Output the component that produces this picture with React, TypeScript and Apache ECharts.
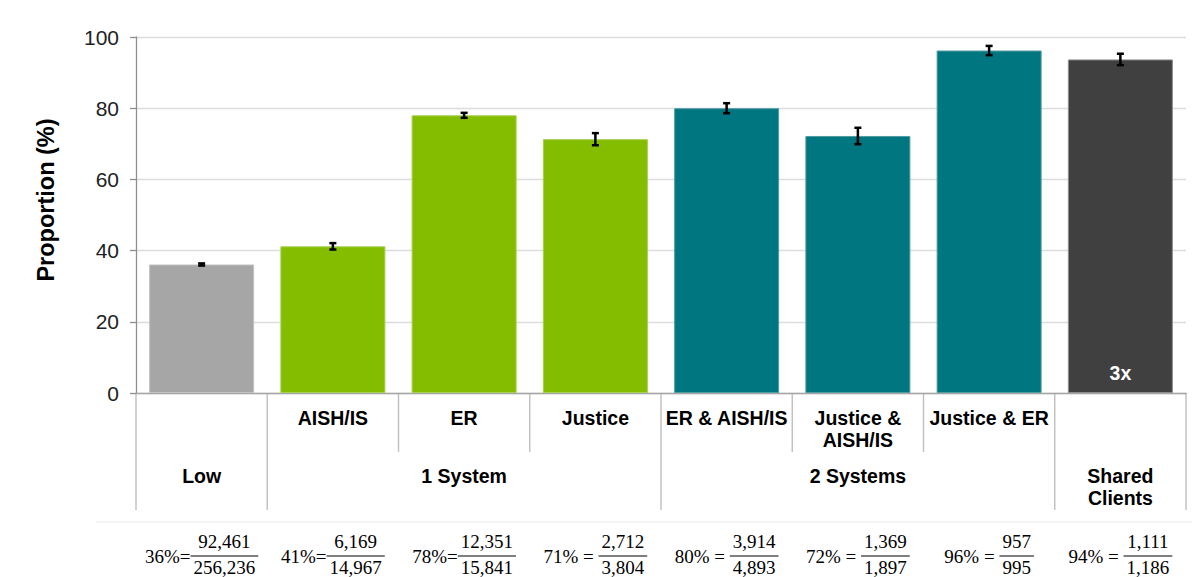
import { useEffect, useRef } from "react";
import * as echarts from "echarts";

// Leaf categories, left to right
const categories = [
  "Low",
  "AISH/IS",
  "ER",
  "Justice",
  "ER & AISH/IS",
  "Justice & AISH/IS",
  "Justice & ER",
  "Shared Clients",
];
// Text shown on the first row under the axis
const subLabels = ["", "AISH/IS", "ER", "Justice", "ER & AISH/IS", "Justice &\nAISH/IS", "Justice & ER", ""];
// Second row: group names and the group each category belongs to
const groupNames = ["Low", "1 System", "2 Systems", "Shared\nClients"];
const groupOf = [0, 1, 1, 1, 2, 2, 2, 3];

// Proportion (%) and half-width of each confidence interval
const proportions = [36.1, 41.2, 78.0, 71.3, 80.0, 72.2, 96.2, 93.7];
const errorHalfWidths = [0.3, 0.9, 0.7, 1.7, 1.4, 2.3, 1.3, 1.6];

// Counts behind each proportion
const numerators = ["92,461", "6,169", "12,351", "2,712", "3,914", "1,369", "957", "1,111"];
const denominators = ["256,236", "14,967", "15,841", "3,804", "4,893", "1,897", "995", "1,186"];
const equalsSigns = ["=", "=", "=", " = ", " = ", " = ", " = ", " = "];

// Note printed inside a bar
const barNotes = ["", "", "", "", "", "", "", "3x"];

const Y_MIN = 0;
const Y_MAX = 100;
const Y_STEP = 20;

const groupColors = ["#a6a6a6", "#84bd00", "#007680", "#404040"];
const groupBorders = ["#c2c2c2", "#a4d04c", "#4f9ca3", "#8c8c8c"];

const SANS = "'Liberation Sans', Arial, sans-serif";
const SERIF = "'Liberation Serif', 'Times New Roman', serif";

function buildOption(): echarts.EChartsOption {
  return {
    animation: false,
    backgroundColor: "#ffffff",
    grid: { left: 136, right: 10, top: 37, bottom: 184, containLabel: false },
    xAxis: {
      type: "category",
      data: categories,
      axisLine: { show: true, lineStyle: { color: "#a6a6a6", width: 1.3 } },
      axisTick: { show: false },
      axisLabel: {
        interval: 0,
        margin: 14,
        formatter: (_v: string, i: number) => subLabels[i],
        fontFamily: SANS,
        fontSize: 19.5,
        fontWeight: "bold",
        color: "#000",
        lineHeight: 22,
        verticalAlign: "top",
      },
      splitLine: { show: false },
    },
    yAxis: {
      type: "value",
      min: Y_MIN,
      max: Y_MAX,
      interval: Y_STEP,
      axisLine: { show: true, lineStyle: { color: "#8f8f8f", width: 1.3 } },
      axisTick: { show: true, length: 6, lineStyle: { color: "#8f8f8f", width: 1.3 } },
      axisLabel: { margin: 17, fontFamily: SANS, fontSize: 21, color: "#222" },
      splitLine: { show: true, lineStyle: { color: "#dcdcdc", width: 1.3 } },
    },
    series: [
      {
        type: "bar",
        barWidth: "80%",
        data: proportions.map((v, i) => ({
          value: v,
          itemStyle: {
            color: groupColors[groupOf[i]],
            borderColor: groupBorders[groupOf[i]],
            borderWidth: 1,
          },
          label: barNotes[i]
            ? {
                show: true,
                formatter: barNotes[i],
                position: "insideBottom",
                distance: 10,
                color: "#fff",
                fontFamily: SANS,
                fontSize: 19.5,
                fontWeight: "bold",
              }
            : { show: false },
        })),
        z: 2,
      },
      {
        type: "custom",
        encode: { x: 0, y: [1, 2] },
        data: proportions.map((v, i) => [i, v - errorHalfWidths[i], v + errorHalfWidths[i]]),
        renderItem: (_params: any, api: any) => {
          const idx = api.value(0);
          const lo = api.coord([idx, api.value(1)]);
          const hi = api.coord([idx, api.value(2)]);
          const cap = 3.5;
          const style = { stroke: "#000", lineWidth: 2.5 };
          return {
            type: "group",
            children: [
              { type: "line", shape: { x1: lo[0], y1: lo[1], x2: hi[0], y2: hi[1] }, style },
              { type: "line", shape: { x1: lo[0] - cap, y1: lo[1], x2: lo[0] + cap, y2: lo[1] }, style },
              { type: "line", shape: { x1: hi[0] - cap, y1: hi[1], x2: hi[0] + cap, y2: hi[1] }, style },
            ],
          };
        },
        z: 5,
      },
    ],
  };
}

// Hierarchical category table, the y-axis title and the count fractions
function buildOverlay(chart: echarts.ECharts): any[] {
  const centers = categories.map((c) => chart.convertToPixel({ xAxisIndex: 0 }, c) as number);
  const band = centers[1] - centers[0];
  const y0 = chart.convertToPixel({ yAxisIndex: 0 }, 0) as number;
  const els: any[] = [];

  // Vertical separators: long ones between groups, short ones inside a group
  for (let k = 0; k <= categories.length; k++) {
    const x = centers[0] - band / 2 + k * band;
    const isGroupEdge = k === 0 || k === categories.length || groupOf[k - 1] !== groupOf[k];
    els.push({
      type: "line",
      shape: { x1: x, y1: y0, x2: x, y2: y0 + (isGroupEdge ? 117 : 59) },
      style: { stroke: "#bfbfbf", lineWidth: 1.4 },
      silent: true,
    });
  }

  // Group names
  groupNames.forEach((name, g) => {
    const members = groupOf.map((gg, i) => (gg === g ? i : -1)).filter((i) => i >= 0);
    const cx = (centers[members[0]] + centers[members[members.length - 1]]) / 2;
    els.push({
      type: "text",
      x: cx,
      y: y0 + 72,
      style: {
        text: name,
        fontFamily: SANS,
        fontSize: 19.5,
        fontWeight: "bold",
        fill: "#000",
        align: "center",
        verticalAlign: "top",
        lineHeight: 22,
      },
      silent: true,
    });
  });

  // Thin rule above the fractions
  els.push({
    type: "line",
    shape: { x1: 96, y1: y0 + 129, x2: 1192, y2: y0 + 129 },
    style: { stroke: "#e9e9e9", lineWidth: 1.2 },
    silent: true,
  });

  // Fractions: "36%= numerator / denominator"
  const ctx = document.createElement("canvas").getContext("2d")!;
  const fontSize = 19;
  ctx.font = `${fontSize}px ${SERIF}`;
  const barY = y0 + 163;
  const txt = (text: string, x: number, y: number, align: string) => ({
    type: "text",
    x,
    y,
    style: {
      text,
      fontFamily: SERIF,
      fontSize,
      fill: "#000",
      align,
      verticalAlign: "middle",
    },
    silent: true,
  });
  categories.forEach((_c, i) => {
    const pre = `${Math.round(proportions[i])}%${equalsSigns[i]}`;
    const pw = ctx.measureText(pre).width;
    const fw = Math.max(ctx.measureText(numerators[i]).width, ctx.measureText(denominators[i]).width) + 6;
    const x0 = centers[i] - (pw + fw) / 2;
    const fx = x0 + pw;
    els.push(txt(pre, x0, barY, "left"));
    els.push({
      type: "line",
      shape: { x1: fx, y1: barY, x2: fx + fw, y2: barY },
      style: { stroke: "#000", lineWidth: 1.2 },
      silent: true,
    });
    els.push(txt(numerators[i], fx + fw / 2, barY - 15, "center"));
    els.push(txt(denominators[i], fx + fw / 2, barY + 11, "center"));
  });

  // Y-axis title
  els.push({
    type: "text",
    x: 46,
    y: 200,
    rotation: Math.PI / 2,
    style: {
      text: "Proportion (%)",
      fontFamily: SANS,
      fontSize: 23.5,
      fontWeight: "bold",
      fill: "#000",
      align: "center",
      verticalAlign: "middle",
    },
    silent: true,
  });

  return els;
}

export default function App() {
  const ref = useRef<HTMLDivElement>(null);
  useEffect(() => {
    if (!ref.current) return;
    const chart = echarts.init(ref.current, null, { renderer: "svg" });
    chart.setOption(buildOption());
    chart.setOption({ graphic: { elements: buildOverlay(chart) } });
    return () => chart.dispose();
  }, []);
  return (
    <div
      ref={ref}
      style={{ position: "fixed", left: 0, top: 0, width: 1196, height: 577, background: "#fff" }}
    />
  );
}
